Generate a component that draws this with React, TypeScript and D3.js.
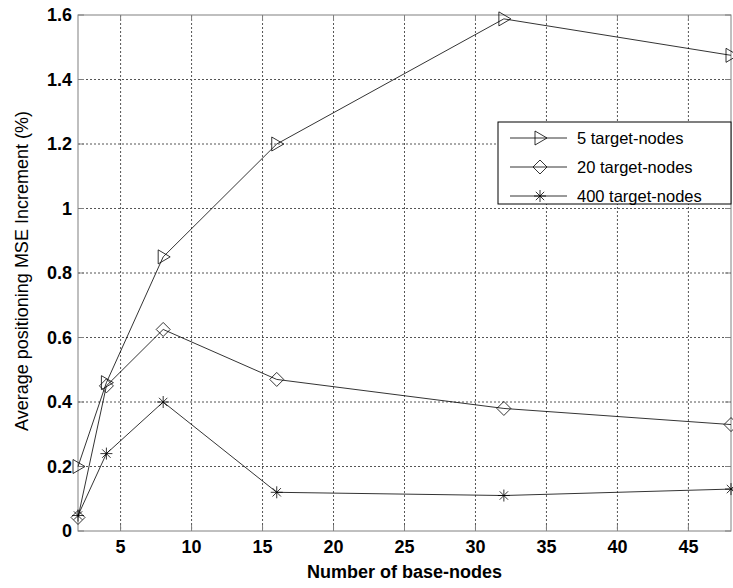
import * as d3 from "d3";

const WIDTH = 733;
const HEIGHT = 588;
const MARGIN = { top: 15, right: 2, bottom: 57, left: 78 };

const baseNodes = [2, 4, 8, 16, 32, 48];
const target5 = [0.2, 0.46, 0.85, 1.2, 1.588, 1.475];
const target20 = [0.042, 0.45, 0.625, 0.47, 0.38, 0.33];
const target400 = [0.048, 0.24, 0.4, 0.12, 0.11, 0.13];
const seriesNames = ["5 target-nodes", "20 target-nodes", "400 target-nodes"];
const xTicks = [5, 10, 15, 20, 25, 30, 35, 40, 45];
const yTicks = [0, 0.2, 0.4, 0.6, 0.8, 1, 1.2, 1.4, 1.6];

type MarkerKind = "triangle" | "diamond" | "star";

function Marker({ kind, x, y }: { kind: MarkerKind; x: number; y: number }) {
  if (kind === "triangle") {
    return (
      <path
        d={`M${x - 5},${y - 7} L${x + 7},${y} L${x - 5},${y + 7} Z`}
        fill="none"
        stroke="#000"
        strokeWidth={0.8}
      />
    );
  }
  if (kind === "diamond") {
    const s = 7;
    return (
      <path
        d={`M${x},${y - s} L${x + s},${y} L${x},${y + s} L${x - s},${y} Z`}
        fill="none"
        stroke="#000"
        strokeWidth={0.8}
      />
    );
  }
  const s = 6;
  const d = s * 0.7;
  return (
    <path
      d={`M${x},${y - s} L${x},${y + s} M${x - s},${y} L${x + s},${y} M${x - d},${y - d} L${x + d},${y + d} M${x - d},${y + d} L${x + d},${y - d}`}
      stroke="#000"
      strokeWidth={0.8}
    />
  );
}

export default function App() {
  const boundsWidth = WIDTH - MARGIN.left - MARGIN.right;
  const boundsHeight = HEIGHT - MARGIN.top - MARGIN.bottom;

  const xScale = d3.scaleLinear().domain([2, 48]).range([0, boundsWidth]);
  const yScale = d3.scaleLinear().domain([0, 1.6]).range([boundsHeight, 0]);

  const line = d3
    .line<number>()
    .x((_, i) => xScale(baseNodes[i]))
    .y((d) => yScale(d));

  const series: { values: number[]; kind: MarkerKind }[] = [
    { values: target5, kind: "triangle" },
    { values: target20, kind: "diamond" },
    { values: target400, kind: "star" },
  ];

  const legendX = 498 - MARGIN.left;
  const legendY = 122 - MARGIN.top;

  return (
    <svg
      width={WIDTH}
      height={HEIGHT}
      style={{ position: "absolute", left: 0, top: 0, background: "#fff" }}
      fontFamily="Arial, 'Liberation Sans', sans-serif"
    >
      <g transform={`translate(${MARGIN.left},${MARGIN.top})`}>
        {/* grid */}
        {xTicks.map((t) => (
          <line
            key={"gx" + t}
            x1={xScale(t)}
            x2={xScale(t)}
            y1={0}
            y2={boundsHeight}
            stroke="#555"
            strokeWidth={1}
            strokeDasharray="2,2"
          />
        ))}
        {yTicks.slice(1, -1).map((t) => (
          <line
            key={"gy" + t}
            x1={0}
            x2={boundsWidth}
            y1={yScale(t)}
            y2={yScale(t)}
            stroke="#555"
            strokeWidth={1}
            strokeDasharray="2,2"
          />
        ))}
        {/* box */}
        <rect
          x={0}
          y={0}
          width={boundsWidth}
          height={boundsHeight}
          fill="none"
          stroke="#808080"
          strokeWidth={1}
        />
        {/* ticks */}
        {xTicks.map((t) => (
          <g key={"tx" + t}>
            <line x1={xScale(t)} x2={xScale(t)} y1={boundsHeight} y2={boundsHeight - 6} stroke="#808080" />
            <line x1={xScale(t)} x2={xScale(t)} y1={0} y2={6} stroke="#808080" />
            <text
              x={xScale(t)}
              y={boundsHeight + 22}
              textAnchor="middle"
              fontSize={18}
              fontWeight="bold"
              fill="#000"
            >
              {t}
            </text>
          </g>
        ))}
        {yTicks.map((t) => (
          <g key={"ty" + t}>
            <line x1={0} x2={6} y1={yScale(t)} y2={yScale(t)} stroke="#808080" />
            <line x1={boundsWidth} x2={boundsWidth - 6} y1={yScale(t)} y2={yScale(t)} stroke="#808080" />
            <text
              x={-6}
              y={yScale(t)}
              dy="0.36em"
              textAnchor="end"
              fontSize={18}
              fontWeight="bold"
              fill="#000"
            >
              {t === 0 || t === 1 ? t : t.toFixed(1)}
            </text>
          </g>
        ))}
        {/* series */}
        {series.map((s, i) => (
          <g key={"s" + i}>
            <path d={line(s.values) ?? ""} fill="none" stroke="#000" strokeWidth={0.8} />
            {s.values.map((v, j) => (
              <Marker key={j} kind={s.kind} x={xScale(baseNodes[j])} y={yScale(v)} />
            ))}
          </g>
        ))}
        {/* legend */}
        <rect
          x={legendX}
          y={legendY}
          width={boundsWidth - legendX}
          height={82}
          fill="#fff"
          stroke="#000"
          strokeWidth={1}
        />
        {series.map((s, i) => {
          const yy = legendY + 16 + i * 29;
          return (
            <g key={"l" + i}>
              <line x1={legendX + 12} x2={legendX + 69} y1={yy} y2={yy} stroke="#000" strokeWidth={0.8} />
              <Marker kind={s.kind} x={legendX + 42} y={yy} />
              <text x={legendX + 79} y={yy} dy="0.36em" fontSize={16.5} fill="#000">
                {seriesNames[i]}
              </text>
            </g>
          );
        })}
      </g>
      <text x={MARGIN.left + boundsWidth / 2} y={578} textAnchor="middle" fontSize={18} fontWeight="bold" fill="#000">
        Number of base-nodes
      </text>
      <text
        transform={`translate(28,${MARGIN.top + boundsHeight / 2 - 2}) rotate(-90)`}
        textAnchor="middle"
        fontSize={18}
        fill="#000"
      >
        Average positioning MSE Increment (%)
      </text>
    </svg>
  );
}
